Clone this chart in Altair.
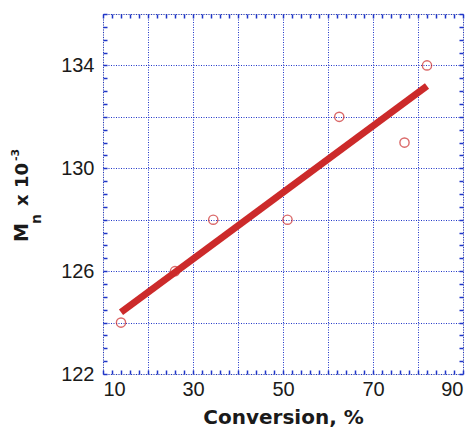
import altair as alt
import pandas as pd

# Data
conversion = [14, 26, 34.5, 51, 62.5, 77, 82]
mn = [124, 126, 128, 128, 132, 131, 134]
fit_x = [14, 82]
fit_y = [124.4, 133.2]

x_major = [10, 20, 30, 40, 50, 60, 70, 80, 90]
y_major = [122, 124, 126, 128, 130, 132, 134, 136]
x_minor = list(range(10, 91, 2))
y_minor = [122 + 0.5 * i for i in range(29)]

BLUE = "#1f35c8"
RED = "#cc2a2a"
LBL = "#1a1a1a"

pts = pd.DataFrame({"x": conversion, "y": mn})
fit = pd.DataFrame({"x": fit_x, "y": fit_y})

xs = alt.Scale(domain=[10, 90], nice=False, zero=False)
ys = alt.Scale(domain=[122, 136], nice=False, zero=False)


def tick_axis(orient, values, size):
    return alt.Axis(orient=orient, values=values, labels=False, title=None,
                    grid=False, domain=False, ticks=True,
                    tickSize=alt.ExprRef(expr=str(-size)), tickColor=BLUE,
                    tickWidth=1.5)


points = alt.Chart(pts).mark_point(
    shape="circle", filled=False, color=RED, size=85, strokeWidth=1.4
).encode(
    x=alt.X("x:Q", scale=xs, axis=alt.Axis(
        orient="bottom", values=x_major, ticks=False, domain=False,
        grid=True, gridColor=BLUE, gridDash=[1, 1.5], gridWidth=1, gridOpacity=1,
        labelExpr="datum.value % 20 == 10 ? datum.label : ''",
        labelFont="Liberation Sans", labelFontSize=20, labelColor=LBL,
        labelPadding=5, title="Conversion, %", titleFont="DejaVu Sans",
        titleFontSize=20, titleFontWeight="bold", titleColor=LBL,
        titleBaseline="alphabetic", titleY=49, titleX=180)),
    y=alt.Y("y:Q", scale=ys, axis=alt.Axis(
        orient="left", values=y_major, ticks=False, domain=False,
        grid=True, gridColor=BLUE, gridDash=[1, 1.5], gridWidth=1, gridOpacity=1,
        labelExpr="(datum.value - 122) % 4 == 0 && datum.value < 136 ? datum.label : ''",
        labelFont="Liberation Sans", labelFontSize=20, labelColor=LBL,
        labelPadding=9, title=None)),
)

line = alt.Chart(fit).mark_line(color=RED, strokeWidth=7, strokeCap="butt").encode(
    x=alt.X("x:Q", scale=xs, axis=tick_axis("top", x_minor, 4)),
    y=alt.Y("y:Q", scale=ys, axis=tick_axis("right", y_minor, 4)),
)

ghost = alt.Chart(fit).mark_point(opacity=0).encode(
    x=alt.X("x:Q", scale=xs, axis=tick_axis("bottom", x_minor, 4)),
    y=alt.Y("y:Q", scale=ys, axis=tick_axis("left", y_minor, 4)),
)

# Y title pieces: M_n x 10^-3 (rotated)
tfont = "DejaVu Sans"
t_m = alt.Chart(pd.DataFrame({"t": ["M"]})).mark_text(
    angle=270, align="left", baseline="alphabetic", font=tfont, fontSize=19,
    fontWeight="bold", color=LBL).encode(text="t:N", x=alt.value(-75), y=alt.value(228))
t_n = alt.Chart(pd.DataFrame({"t": ["n"]})).mark_text(
    angle=270, align="left", baseline="alphabetic", font=tfont, fontSize=14,
    fontWeight="bold", color=LBL).encode(text="t:N", x=alt.value(-62), y=alt.value(210))
t_x = alt.Chart(pd.DataFrame({"t": ["x 10"]})).mark_text(
    angle=270, align="left", baseline="alphabetic", font=tfont, fontSize=18,
    fontWeight="bold", color=LBL).encode(text="t:N", x=alt.value(-75), y=alt.value(192))
t_e = alt.Chart(pd.DataFrame({"t": ["-3"]})).mark_text(
    angle=270, align="left", baseline="alphabetic", font=tfont, fontSize=11,
    fontWeight="bold", color=LBL).encode(text="t:N", x=alt.value(-84), y=alt.value(147))

chart = alt.layer(points, line, ghost, t_m, t_n, t_x, t_e).resolve_axis(
    x="independent", y="independent"
).properties(
    width=360, height=360, autosize="none",
    padding={"left": 95, "top": 6, "right": 4, "bottom": 54},
).configure_view(stroke=BLUE, strokeWidth=2).configure(background="white")

chart.save("out.html", embed_options={"renderer": "svg", "actions": False})
